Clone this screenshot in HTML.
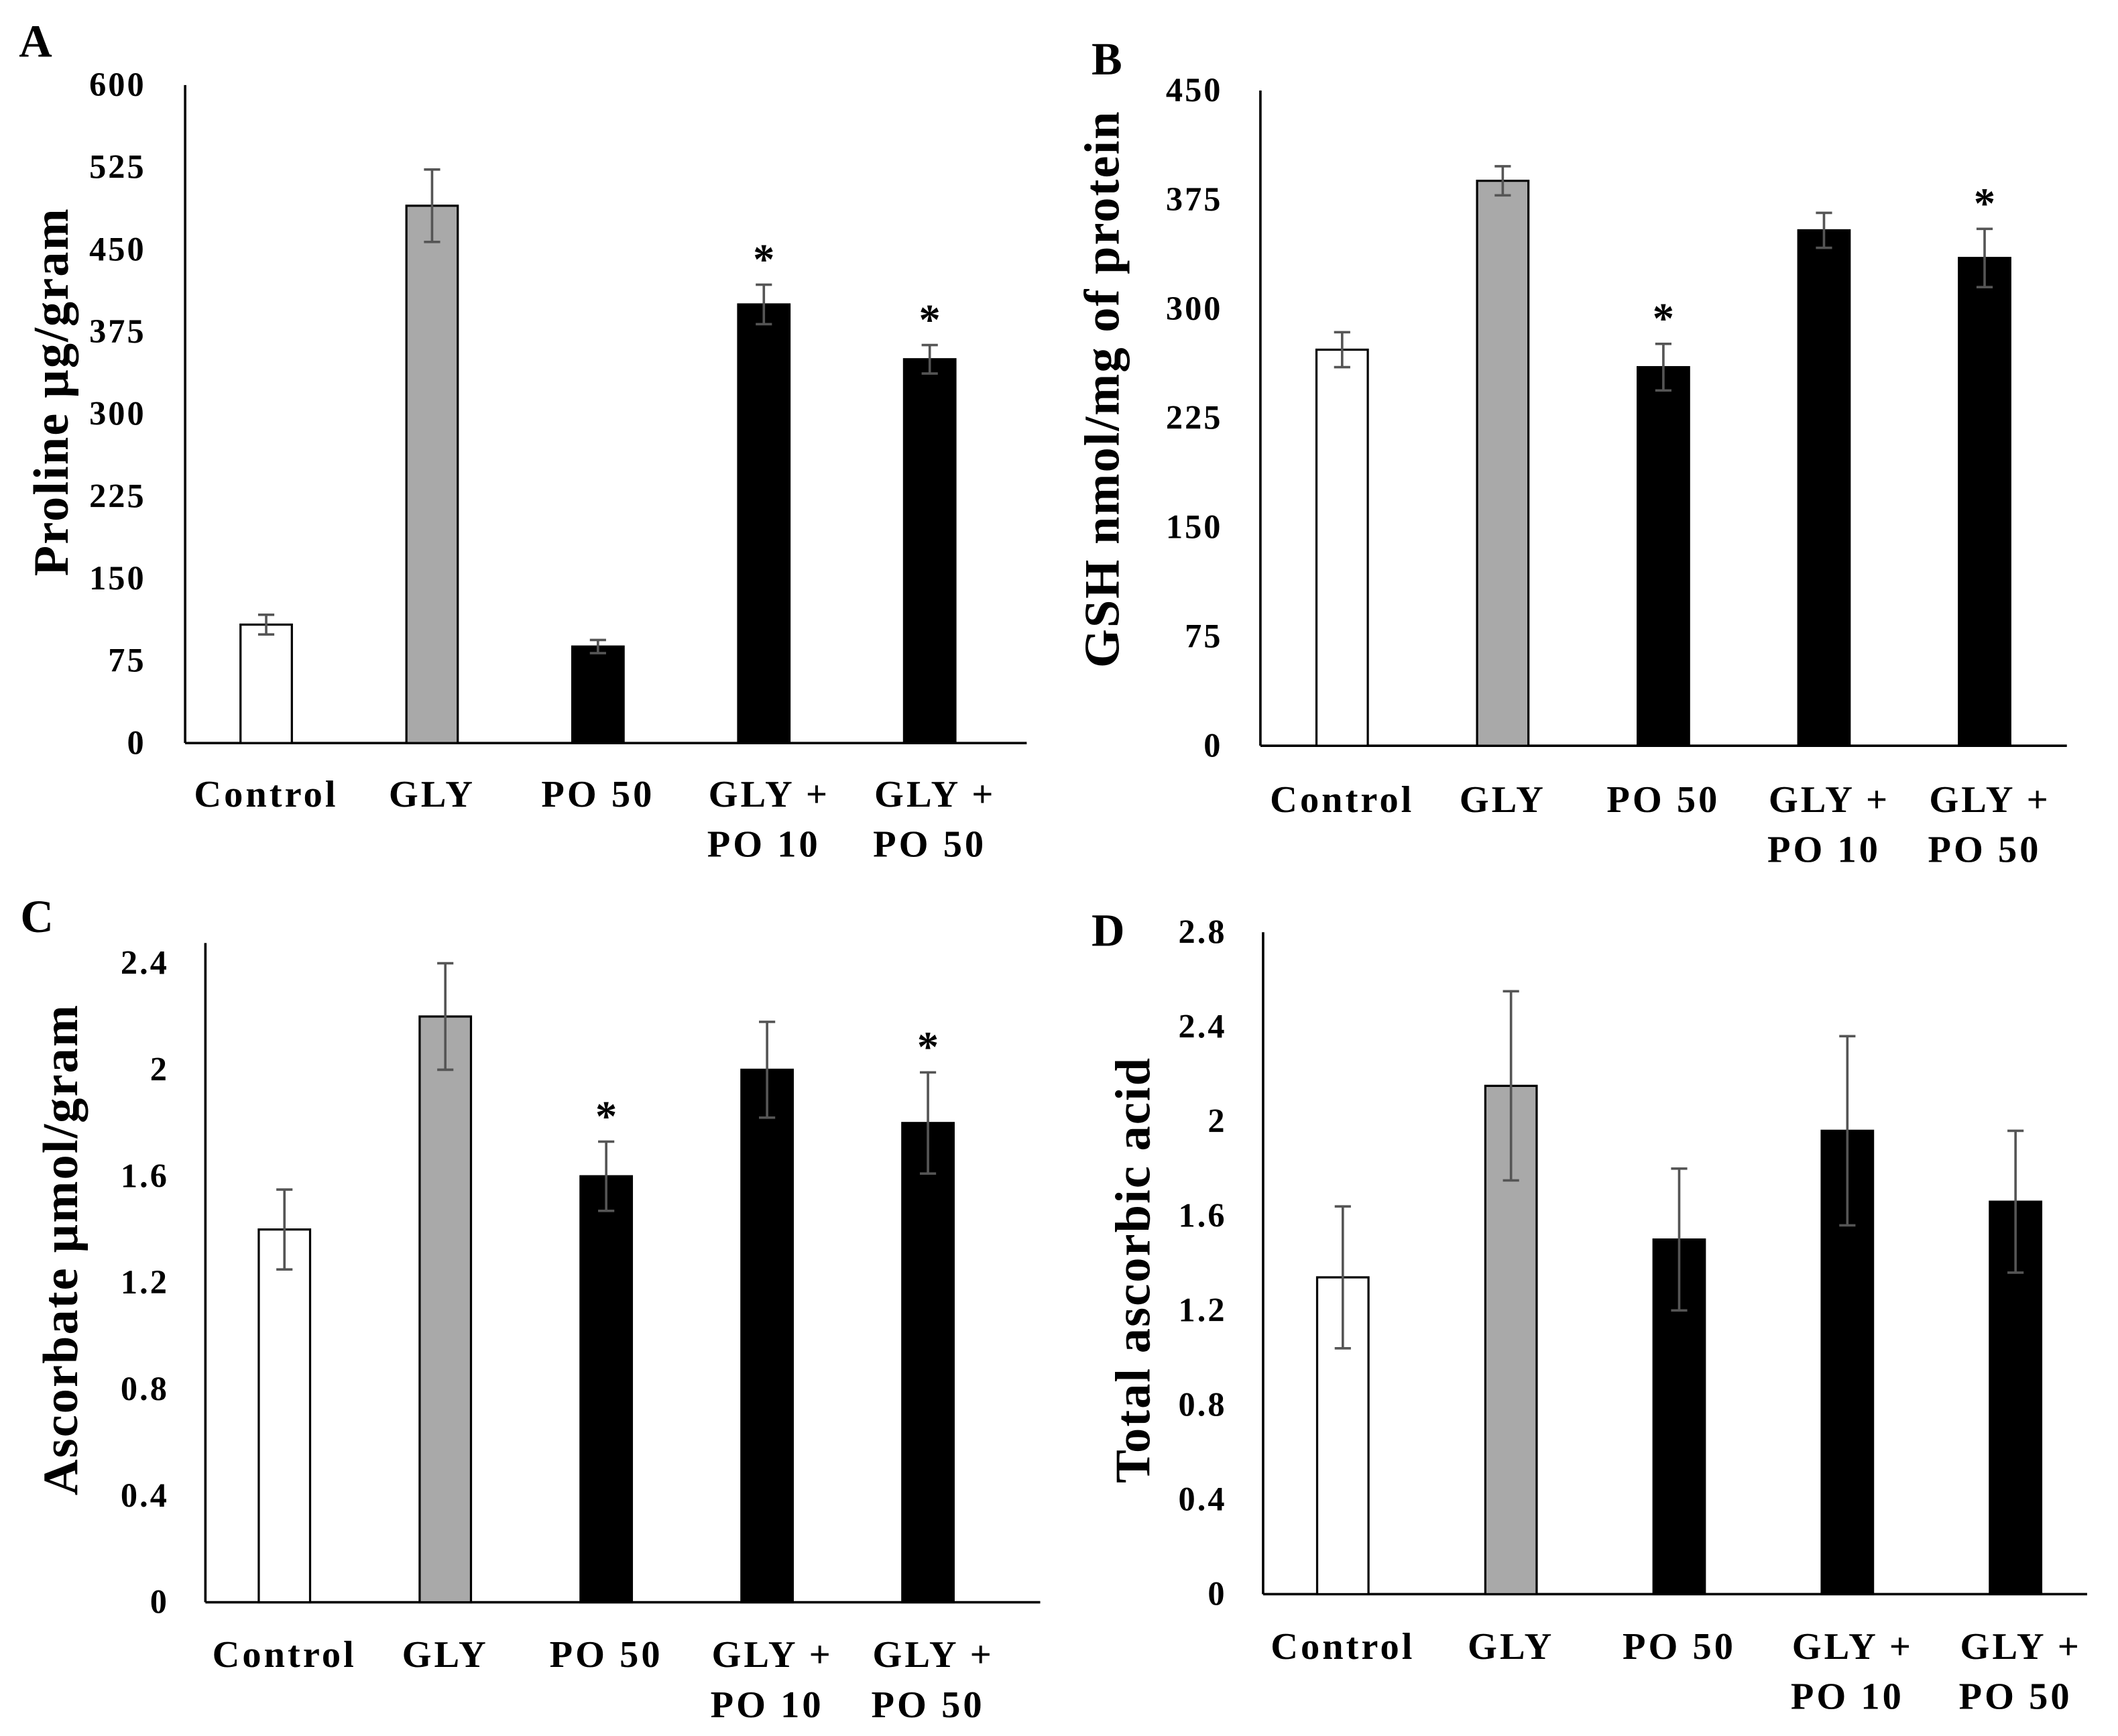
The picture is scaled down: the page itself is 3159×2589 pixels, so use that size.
<!DOCTYPE html>
<html><head><meta charset="utf-8"><style>
html,body{margin:0;padding:0;background:#fff;}
svg{display:block;}
text{font-family:"Liberation Serif",serif;}
</style></head><body>
<svg id="fig" width="3159" height="2589" viewBox="0 0 1567.8 1285" xmlns="http://www.w3.org/2000/svg"></svg>
<script>
const categories = [["Control"],["GLY"],["PO 50"],["GLY +","PO 10"],["GLY +","PO 50"]];
const fills = ["#ffffff","#a9a9a9","#000000","#000000","#000000"];
const valuesA = [108, 490, 88, 400, 350];
const errorsA = [9, 33, 6, 18, 13];
const starsA = [false,false,false,true,true];
const ticksA = [0,75,150,225,300,375,450,525,600];
const valuesB = [272, 388, 260, 354, 335];
const errorsB = [12, 10, 16, 12, 20];
const starsB = [false,false,true,false,true];
const ticksB = [0,75,150,225,300,375,450];
const valuesC = [1.4, 2.2, 1.6, 2.0, 1.8];
const errorsC = [0.15, 0.2, 0.13, 0.18, 0.19];
const starsC = [false,false,true,false,true];
const ticksC = ["0","0.4","0.8","1.2","1.6","2","2.4"];
const valuesD = [1.34, 2.15, 1.5, 1.96, 1.66];
const errorsD = [0.3, 0.4, 0.3, 0.4, 0.3];
const ticksD = ["0","0.4","0.8","1.2","1.6","2","2.4","2.8"];

const NS="http://www.w3.org/2000/svg";
const svg=document.getElementById('fig');
function mk(tag,attrs,parent){const e=document.createElementNS(NS,tag);for(const k in attrs)e.setAttribute(k,attrs[k]);(parent||svg).appendChild(e);return e;}

function panel(p){
  const g=mk('g',{});
  
  
  const ymax=p.max;
  const y=v=>p.y0-(v/ymax)*(p.y0-p.yTop);
  const cx=i=>p.c0+i*p.step;
  const L=mk('text',{x:p.letter[0],y:p.letter[1],'font-size':34,'font-weight':'bold'},g);
  L.textContent=p.id;
  
  
  const ax=mk('line',{x1:p.ax,y1:p.axTop,x2:p.ax,y2:p.y0,stroke:'#000','stroke-width':1.8},g);
  
  
  const bx=mk('line',{x1:p.ax,y1:p.y0,x2:p.right,y2:p.y0,stroke:'#000','stroke-width':1.8},g);
  
  
  p.ticks.forEach(t=>{
    const tx=mk('text',{x:p.tickRight,y:y(parseFloat(t))+8,'font-size':25,'font-weight':'bold','text-anchor':'end','letter-spacing':1.5},g);
    tx.textContent=t;
    
    
  });
  const tt=mk('text',{x:0,y:0,'font-size':37,'font-weight':'bold','text-anchor':'middle','letter-spacing':1,transform:`translate(${p.title[0]},${p.title[1]}) rotate(-90)`},g);
  tt.textContent=p.titleText;
  
  
  p.vals.forEach((v,i)=>{
    const bw=38;
    const r=mk('rect',{x:cx(i)-bw/2,y:y(v),width:bw,height:p.y0-y(v),fill:fills[i],stroke:'#000','stroke-width':1.6},g);
    
    
    const e=p.errs[i];
    const eg=mk('g',{stroke:'#555','stroke-width':1.8},g);
    
    
    mk('line',{x1:cx(i),x2:cx(i),y1:y(v+e),y2:y(v-e)},eg);
    mk('line',{x1:cx(i)-6,x2:cx(i)+6,y1:y(v+e),y2:y(v+e)},eg);
    mk('line',{x1:cx(i)-6,x2:cx(i)+6,y1:y(v-e),y2:y(v-e)},eg);
    if(p.stars&&p.stars[i]){
      const s=mk('text',{x:cx(i),y:y(v+e)-8,'font-size':32,'font-weight':'bold','text-anchor':'middle'},g);
      s.textContent='*';
      
      
    }
    categories[i].forEach((line,k)=>{
      const c=mk('text',{x:cx(i)+(k===0&&categories[i].length>1?4:0),y:p.labY+k*37,'font-size':28,'font-weight':'bold','text-anchor':'middle','letter-spacing':2},g);
      c.textContent=line;
      
      
    });
  });
}
panel({id:'A',letter:[14,42],ax:137,axTop:63,yTop:63,y0:550,right:760,max:600,ticks:ticksA.map(String),tickRight:108,
  title:[50,290],titleText:'Proline  µg/gram',c0:197,step:122.8,vals:valuesA,errs:errorsA,stars:starsA,labY:597});
panel({id:'B',letter:[808,55],ax:933,axTop:67,yTop:67,y0:552,right:1530,max:450,ticks:ticksB.map(String),tickRight:905,
  title:[828,288],titleText:'GSH nmol/mg of protein',c0:993.5,step:118.9,vals:valuesB,errs:errorsB,stars:starsB,labY:601});
panel({id:'C',letter:[15,690],ax:152,axTop:698,yTop:713,y0:1186,right:770,max:2.4,ticks:ticksC,tickRight:125,
  title:[57,925],titleText:'Ascorbate µmol/gram',c0:210.5,step:119.1,vals:valuesC,errs:errorsC,stars:starsC,labY:1234});
panel({id:'D',letter:[808,700],ax:935,axTop:690,yTop:690,y0:1180,right:1545,max:2.8,ticks:ticksD,tickRight:908,
  title:[851,940],titleText:'Total ascorbic acid',c0:994,step:124.5,vals:valuesD,errs:errorsD,stars:null,labY:1228});
</script>
</body></html>
